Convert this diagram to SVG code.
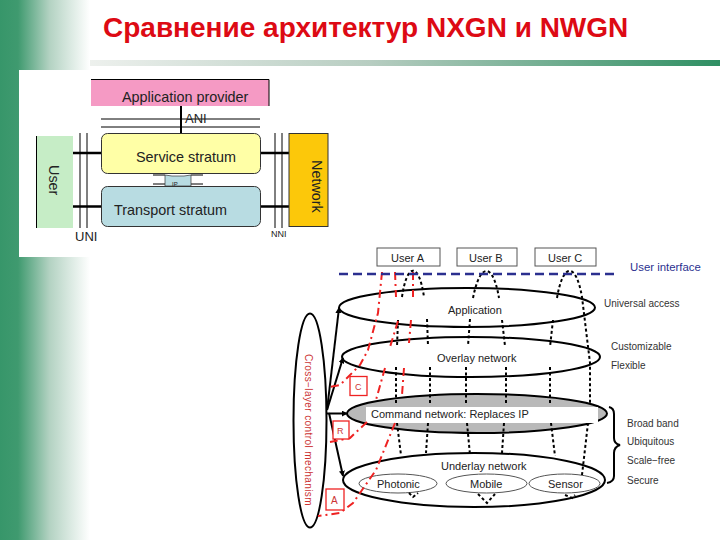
<svg xmlns="http://www.w3.org/2000/svg" width="720" height="540" viewBox="0 0 720 540">
<style>
text{font-family:"Liberation Sans",Arial,sans-serif;fill:#222}
.t{font-size:14.400px}
.s{font-size:11px;fill:#222}
.m{font-size:10px;fill:#333}
.e{fill:#fff;stroke:#000;stroke-width:2}
.l{stroke:#000;fill:none}
.d{stroke:#000;fill:none;stroke-width:2;stroke-dasharray:3 2.5}
.r{stroke:#e22;fill:none;stroke-width:2;stroke-dasharray:8 4 2 4}
.b{fill:#fff;stroke:#e22;stroke-width:1.3}
.u{fill:#fff;stroke:#555;stroke-width:1}
.i{fill:#fff;stroke:#555;stroke-width:1}
.x{font-size:9px;fill:#c33}
</style>
<defs>
<linearGradient id="g"><stop offset="0" stop-color="#37966a"/><stop offset=".2" stop-color="#3f9a6f"/><stop offset=".55" stop-color="#b3d2c2"/><stop offset="1" stop-color="#fff"/></linearGradient>
<linearGradient id="h"><stop offset="0" stop-color="#eef1ee"/><stop offset=".45" stop-color="#b7cdc1"/><stop offset="1" stop-color="#2f8f63"/></linearGradient>
<marker id="a" viewBox="0 0 8 8" refX="7" refY="4" markerWidth="6" markerHeight="6" markerUnits="userSpaceOnUse" orient="auto"><path d="M0 0L8 4L0 8z" fill="#000"/></marker>
</defs>
<rect width="720" height="540" fill="#fff"/>
<rect x="85" y="60" width="635" height="6" fill="url(#h)"/>
<rect width="90" height="540" fill="url(#g)"/>
<text id="title" x="103" y="37" style="font-size:28px;font-weight:bold;fill:#dd0a14">Сравнение архитектур NXGN и NWGN</text>

<g id="left-diagram">
<rect x="19" y="70" width="311" height="187" fill="#fff"/>
<g id="connectors-top" class="l">
<path d="M101 119H260M101 127H260" stroke-width="1"/>
<path d="M181 106V133" stroke-width="2"/>
<path d="M36.500 136V228" stroke-width="1"/>
<path d="M80 133V228M87 133V228M275 133V228M282 133V228" stroke-width="1"/>
<path d="M73 153H102M260 153H289M73 206.500H102M260 206.500H289" stroke-width="2.500"/>
<path d="M153 175H165M153 184H165M191 175H203M191 184H203" stroke-width="1"/>
</g>
<g id="app-provider"><rect x="91" y="80" width="178" height="26" fill="#f59ac4"/><path d="M91 79.500H269V106" fill="none" stroke="#000"/><text class="t" x="122" y="102">Application provider</text></g>
<g id="user"><rect x="37" y="136" width="36" height="92" fill="#c6edc6"/><text class="t" transform="translate(49 165) rotate(90)">User</text></g>
<g id="network"><rect x="289" y="133.500" width="39" height="93" fill="#fcc80a" stroke="#333"/><text class="t" transform="translate(312 160) rotate(90)">Network</text></g>
<g id="service"><rect x="101.500" y="133.500" width="159" height="40" rx="6" fill="#ffffa6" stroke="#333"/><text class="t" x="136" y="162">Service stratum</text></g>
<g id="transport"><rect x="101.500" y="186.500" width="159" height="40" rx="6" fill="#b8dce2" stroke="#333"/><text class="t" x="114" y="215">Transport stratum</text></g>
<g id="ip"><path d="M165 175L172 176H184L191 175V186H165z" fill="#b8dce2" stroke="#333" stroke-width=".7"/><text x="172" y="186" style="font-size:6px">IP</text></g>
<text x="185" y="123" style="font-size:13px">ANI</text>
<text x="75" y="241" style="font-size:13px">UNI</text>
<text x="271" y="237" style="font-size:9px">NNI</text>
</g>

<g id="right-diagram">
<rect x="290" y="246" width="430" height="284" fill="#fff"/>
<g id="cross-layer"><ellipse cx="310" cy="420.500" rx="16.500" ry="107" fill="#fff" stroke="#000" stroke-width="2"/><text transform="translate(305 354) rotate(90)" style="font-size:10px;fill:#c33;letter-spacing:.4px">Cross−layer control mechanism</text></g>
<g id="user-a"><rect class="u" x="377" y="248" width="63" height="18"/><text class="s" x="391" y="262">User A</text></g>
<g id="user-b"><rect class="u" x="457" y="248" width="60" height="18"/><text class="s" x="469" y="262">User B</text></g>
<g id="user-c"><rect class="u" x="535" y="248" width="61" height="18"/><text class="s" x="548" y="262">User C</text></g>
<g id="application"><ellipse class="e" cx="467" cy="307.500" rx="128" ry="19.500"/><text class="s" x="448" y="314">Application</text></g>
<g id="overlay"><ellipse class="e" cx="471" cy="357" rx="129" ry="20"/><text class="s" x="437" y="362">Overlay network</text></g>
<g id="command"><ellipse cx="477" cy="413.500" rx="130" ry="19.500" fill="#b9b9b9" stroke="#000" stroke-width="2"/><rect x="366" y="407" width="232" height="16" fill="#fff"/><text class="s" x="371" y="418">Command network:  Replaces IP</text></g>
<g id="underlay"><ellipse class="e" cx="474" cy="480" rx="131" ry="27"/><text class="s" x="441" y="470">Underlay network</text></g>
<g id="photonic"><ellipse class="i" cx="398" cy="483.500" rx="39" ry="9.500"/><text class="s" x="377" y="488">Photonic</text></g>
<g id="mobile"><ellipse class="i" cx="486.500" cy="483.500" rx="40.500" ry="9.500"/><text class="s" x="470" y="488">Mobile</text></g>
<g id="sensor"><ellipse class="i" cx="564.500" cy="483.500" rx="35.500" ry="9.500"/><text class="s" x="548" y="488">Sensor</text></g>
<g id="connectors">
<path class="l" stroke-width="2" marker-end="url(#a)" d="M327 410L339 308"/>
<path class="l" stroke-width="2" marker-end="url(#a)" d="M327 410L343 358"/>
<path class="l" stroke-width="2" marker-end="url(#a)" d="M327 413.500H347"/>
<path class="l" stroke-width="2" marker-end="url(#a)" d="M329 413L343 476"/>
<path class="d" d="M402 297C407 262 419 262 424 297M473 298C480 262 493 262 499 298M557 298C563 262 576 262 582 297L590 363V403"/>
<path class="d" d="M398 320L397 347M427 319L428 346M470 319L468 346M502 320L505 346M553 320L550 347"/>
<path class="d" d="M396 367V403M430 367V403M466 367V403M506 367V403M550 367V403"/>
<path class="d" d="M397 423L401 455M428 423L426 453M467 423L470 455M504 423L502 453M551 423L555 456M588 423L582 475"/>
<path class="d" d="M409 493L413 497L418 493M478 494L487 503L495 494M565 495L572 498L575 495"/>
<path class="r" d="M382 272L378 313L368 350L360 365L340 385L329 387M395 272L396 297M413 272V297M398 321L390 347M411 320L409 343M385 368L376 400M404 368L402 395"/>
<path class="r" d="M395 423L376 470L353 503L340 513L318 516M367 422L350 438L330 442"/>
<path stroke="#2b2f8f" stroke-width="2.500" stroke-dasharray="9 5" fill="none" d="M339 274H618"/>
</g>
<g id="box-c"><rect class="b" x="350" y="376.500" width="17" height="19"/><text class="x" x="355" y="390">C</text></g>
<g id="box-r"><rect class="b" x="333" y="421" width="16" height="18"/><text class="x" x="337" y="434">R</text></g>
<g id="box-a"><rect class="b" x="326" y="489" width="18" height="21"/><text x="331" y="504" style="font-size:10px;fill:#c33">A</text></g>
<text x="630" y="271" style="font-size:11.400px;fill:#2b2f8f">User interface</text>
<text class="m" x="604" y="307">Universal access</text>
<text class="m" x="611" y="350">Customizable</text>
<text class="m" x="611" y="369">Flexible</text>
<path class="l" stroke-width="2" d="M609 407Q614 408 614 414V438Q614 444 620 445Q614 447 614 453V476Q614 482 607 483"/>
<text class="m" x="627" y="427">Broad band</text>
<text class="m" x="627" y="445">Ubiquitous</text>
<text class="m" x="627" y="464">Scale−free</text>
<text class="m" x="627" y="484">Secure</text>
</g>
</svg>
